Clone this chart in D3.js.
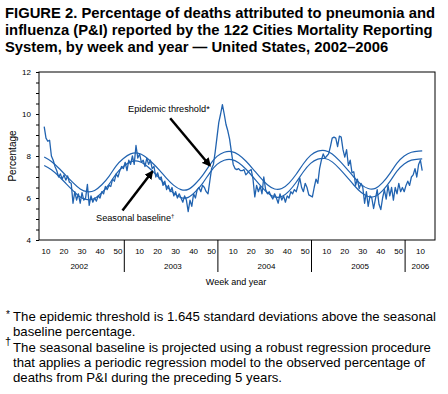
<!DOCTYPE html>
<html>
<head>
<style>
body { margin: 0; background: #fff; }
text { font-family: 'Liberation Sans', Arial, Helvetica, sans-serif; }
</style>
</head>
<body>
<svg id='chart'></svg>

<script src="https://d3js.org/d3.v7.min.js"></script>
<script>
var W = 448, H = 394
var BLUE = '#2163b0'

// weekly P&I percentage, 2002 wk 9 .. 2006 wk 11
var pi2002 = [9.4, 8.85, 8.7, 8.75, 8.0, 7.8, 7.5, 7.3, 7.0, 7.15, 6.9, 7.1, 6.85, 7.05, 6.75, 6.7,
	5.75, 6.3, 5.9, 6.2, 5.75, 6.25, 5.9, 6.0, 6.65, 5.65, 6.1, 5.8, 6.0, 5.85, 6.1, 6.0,
	6.3, 6.2, 6.55, 6.4, 6.6, 6.55, 6.9, 6.8, 7.15, 7.0, 7.3, 7.5]
var pi2003 = [7.4, 7.7, 7.3, 7.8, 7.6, 8.0, 7.6, 8.5, 7.9, 8.1, 7.7, 7.8, 7.5, 7.9, 7.6, 7.8,
	7.4, 7.5, 7.0, 7.2, 6.9, 7.0, 6.6, 6.8, 6.4, 6.6, 6.3, 6.5, 6.1, 6.3, 6.0, 6.2,
	6.0, 5.8, 6.1, 5.9, 5.35, 5.9, 5.6, 6.2, 6.0, 6.4, 6.5, 6.3, 6.6, 6.5, 6.3, 6.2,
	6.8, 7.4, 7.6, 8.2]
var pi2004 = [8.9, 9.6, 10.0, 10.45, 10.0, 9.5, 9.2, 8.8, 8.2, 7.6, 7.4, 7.35, 7.4, 7.3, 7.3, 7.35,
	7.1, 7.2, 7.3, 7.35, 6.9, 6.05, 6.6, 6.3, 6.55, 6.2, 7.0, 6.4, 6.2, 6.3, 6.1, 5.95,
	6.2, 6.0, 5.75, 6.2, 5.9, 6.1, 5.8, 6.1, 6.0, 6.3, 6.2, 6.4, 6.3, 6.6, 6.95, 6.5,
	6.3, 6.7, 6.5, 6.15]
var pi2005 = [6.1, 6.05, 6.5, 6.9, 6.7, 7.4, 7.8, 8.1, 7.9, 8.0, 8.1, 8.45, 8.85, 8.9, 8.85, 8.45,
	8.95, 8.9, 8.3, 7.95, 8.3, 7.55, 7.8, 7.2, 7.25, 6.6, 6.9, 6.45, 6.7, 6.5, 5.75, 6.3,
	5.6, 6.1, 6.0, 5.5, 5.95, 6.4, 5.7, 5.45, 6.0, 6.4, 5.95, 6.6, 6.1, 6.5, 5.9, 6.5,
	6.2, 6.7, 6.3, 6.5]
var pi2006 = [6.3, 6.6, 6.8, 6.6, 7.0, 7.1, 7.4, 7.0, 7.6, 7.8, 7.3]

// seasonal baseline and epidemic threshold, read every 4 weeks (+ last week)
var baseline = [7.55, 7.35, 7.05, 6.7, 6.35, 6.05, 5.92, 5.98, 6.25, 6.65, 7.15,
	7.5, 7.72, 7.76, 7.6, 7.3, 6.95, 6.55, 6.22, 6.02, 6.03, 6.3, 6.7, 7.2,
	7.6, 7.8, 7.83, 7.68, 7.38, 7.0, 6.6, 6.25, 6.05, 6.07, 6.33, 6.75, 7.25,
	7.65, 7.85, 7.88, 7.72, 7.4, 7.02, 6.62, 6.27, 6.07, 6.08, 6.35, 6.78, 7.28,
	7.62, 7.8, 7.85, 7.86]
var threshold = [7.95, 7.74, 7.43, 7.08, 6.73, 6.43, 6.3, 6.36, 6.63, 7.03, 7.53,
	7.88, 8.1, 8.14, 7.98, 7.68, 7.33, 6.93, 6.6, 6.4, 6.41, 6.68, 7.08, 7.58,
	7.98, 8.18, 8.21, 8.06, 7.76, 7.38, 6.98, 6.63, 6.43, 6.45, 6.71, 7.13, 7.63,
	8.03, 8.23, 8.26, 8.1, 7.78, 7.4, 7.0, 6.65, 6.45, 6.46, 6.73, 7.16, 7.66,
	8.0, 8.18, 8.23, 8.24]

var years = ['2002', '2003', '2004', '2005', '2006']
var weekLabels = [10, 20, 30, 40, 50]
var yLabels = [4, 6, 8, 10, 12]

var titleLines = ['FIGURE 2. Percentage of deaths attributed to pneumonia and',
	'influenza (P&I) reported by the 122 Cities Mortality Reporting',
	'System, by week and year \u2014 United States, 2002\u20132006']

// week index t: 2002 wk w -> w, 2003 wk w -> 52 + w, ...
var piData = [].concat(pi2002, pi2003, pi2004, pi2005, pi2006)
	.map(function(v, i){ return [9 + i, v] })
var bandWeeks = d3.range(9, 218, 4).concat([219])

var svg = d3.select('#chart').attr('width', W).attr('height', H)

var x = d3.scaleLinear().domain([0, 218]).range([28, 28 + 1.8 * 218])
var y = d3.scaleLinear().domain([4, 12]).range([240, 72])
var left = 39, right = 435

function drawTitle() {
	svg.selectAll('.title').data(titleLines).enter()
		.append('text')
		.attr('x', 5)
		.attr('y', function(d, i){ return 18 + i * 17 })
		.attr('font-size', 14.8)
		.attr('font-weight', 'bold')
		.text(function(d){ return d })
}

function drawAxes() {
	svg.append('rect')
		.attr('x', left).attr('y', y(12))
		.attr('width', right - left).attr('height', y(4) - y(12))
		.style('fill', 'none').style('stroke', 'black').style('stroke-width', 1)

	var yAxis = d3.axisLeft(y)
		.tickValues(d3.range(4, 12.01, 0.5))
		.tickSize(3)
		.tickFormat(function(d){ return yLabels.indexOf(d) >= 0 ? d : '' })
	var g = svg.append('g').attr('transform', 'translate(' + left + ',0)').call(yAxis)
	g.select('.domain').remove()
	g.selectAll('text').attr('font-size', 8).attr('font-family', 'Liberation Sans, Arial, sans-serif').attr('dx', -2)

	svg.append('text')
		.attr('transform', 'translate(16,' + y(8) + ') rotate(-90)')
		.attr('text-anchor', 'middle')
		.attr('font-size', 10)
		.text('Percentage')

	// week labels
	years.forEach(function(yr, k) {
		var weeks = k < 4 ? weekLabels : [10]
		weeks.forEach(function(w) {
			svg.append('text')
				.attr('x', x(52 * k + w))
				.attr('y', 254)
				.attr('text-anchor', 'middle')
				.attr('font-size', 8)
				.text(w)
		})
		svg.append('text')
			.attr('x', k < 4 ? x(52 * k + 28.5) : x(52 * k + 10))
			.attr('y', 269)
			.attr('text-anchor', 'middle')
			.attr('font-size', 8)
			.text(yr)
		if (k < 4) {
			var sx = x(52 * k + 53.5)
			svg.append('line')
				.attr('x1', sx).attr('x2', sx)
				.attr('y1', y(4)).attr('y2', 272)
				.style('stroke', 'black').style('stroke-width', 1)
		}
	})

	svg.append('text')
		.attr('x', 236).attr('y', 285)
		.attr('text-anchor', 'middle')
		.attr('font-size', 9)
		.text('Week and year')
}

function drawLines() {
	var band = d3.line()
		.x(function(d){ return x(d[0]) })
		.y(function(d){ return y(d[1]) })
		.curve(d3.curveNatural)
	var weekly = d3.line()
		.x(function(d){ return x(d[0]) })
		.y(function(d){ return y(d[1]) })

	;[baseline, threshold].forEach(function(series) {
		svg.append('path')
			.attr('d', band(series.map(function(v, i){ return [bandWeeks[i], v] })))
			.style('fill', 'none').style('stroke', BLUE).style('stroke-width', 1.2)
	})
	svg.append('path')
		.attr('d', weekly(piData))
		.style('fill', 'none').style('stroke', BLUE).style('stroke-width', 1.3)
		.style('stroke-linejoin', 'round')
}

function drawNotes() {
	svg.append('defs').append('marker')
		.attr('id', 'head')
		.attr('viewBox', '0 0 10 10')
		.attr('refX', 8).attr('refY', 5)
		.attr('markerWidth', 3.5).attr('markerHeight', 3.5)
		.attr('orient', 'auto')
		.append('path').attr('d', 'M0,0 L10,5 L0,10 z').style('fill', 'black')

	var arrows = [[[79, 9.8], [101, 7.55]], [[52.5, 5.4], [69, 7.25]]]
	arrows.forEach(function(a) {
		svg.append('line')
			.attr('x1', x(a[0][0])).attr('y1', y(a[0][1]))
			.attr('x2', x(a[1][0])).attr('y2', y(a[1][1]))
			.style('stroke', 'black').style('stroke-width', 2.5)
			.attr('marker-end', 'url(#head)')
	})

	svg.append('text').attr('x', 128).attr('y', 112).attr('font-size', 9.2).text('Epidemic threshold*')
	svg.append('text').attr('x', 96).attr('y', 221).attr('font-size', 9.2)
		.text('Seasonal baseline')
		.append('tspan').attr('dy', -3).attr('font-size', 6).text('\u2020')

	var notes = ['The epidemic threshold is 1.645 standard deviations above the seasonal',
		'baseline percentage.',
		'The seasonal baseline is projected using a robust regression procedure',
		'that applies a periodic regression model to the observed percentage of',
		'deaths from P&I during the preceding 5 years.']
	var noteY = [321, 336, 352, 367, 382]
	notes.forEach(function(t, i) {
		svg.append('text').attr('x', 13).attr('y', noteY[i]).attr('font-size', 13.2).text(t)
	})
	svg.append('text').attr('x', 6).attr('y', 318).attr('font-size', 10).text('*')
	svg.append('text').attr('x', 5).attr('y', 345).attr('font-size', 11).text('\u2020')
}

drawTitle()
drawAxes()
drawLines()
drawNotes()
</script>
</body>
</html>
